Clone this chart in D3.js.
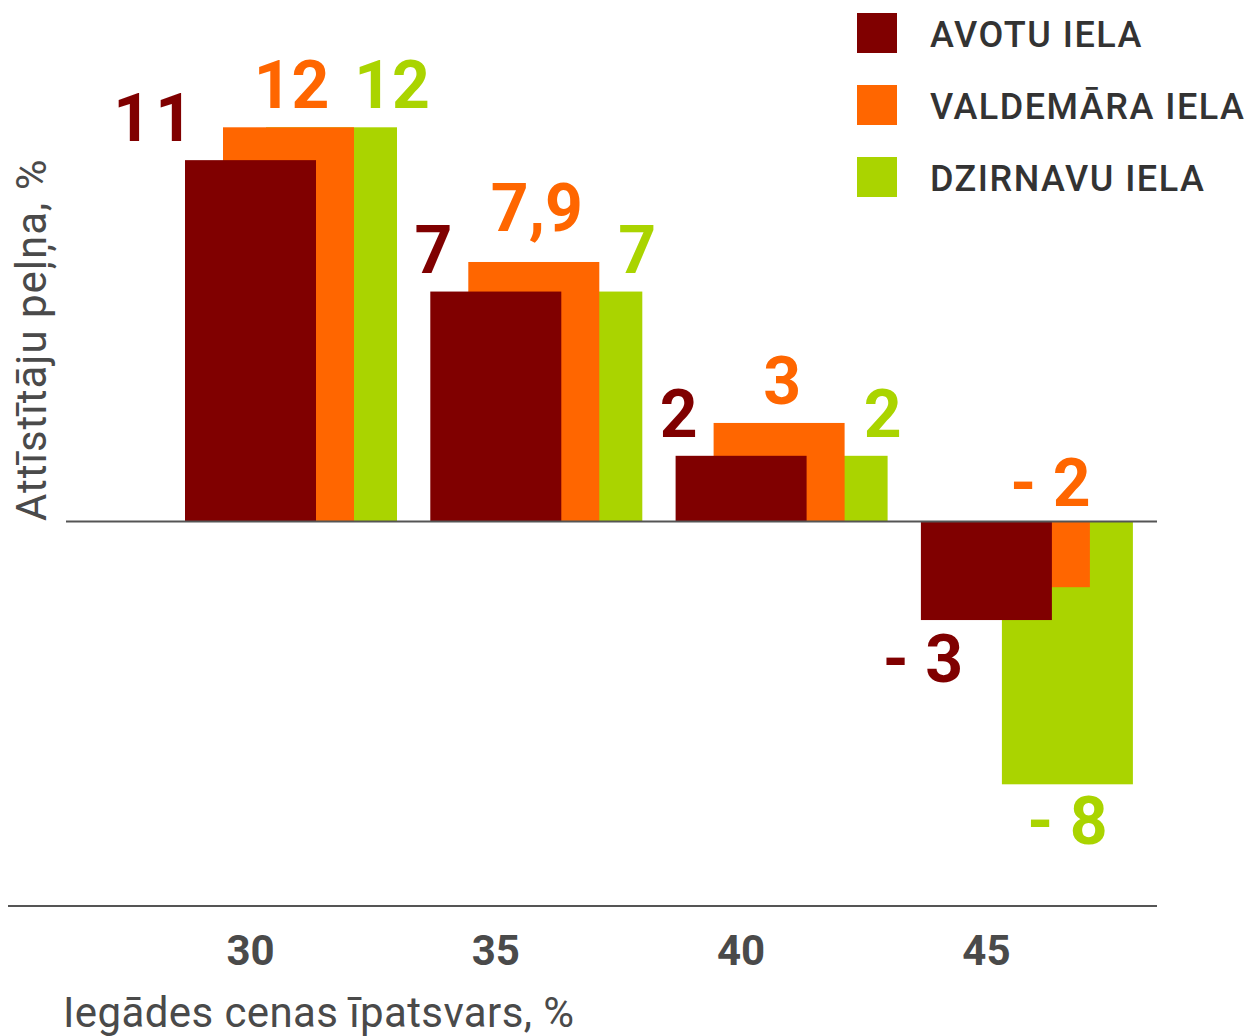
<!DOCTYPE html>
<html><head><meta charset="utf-8">
<script src="https://cdn.jsdelivr.net/npm/d3@7"></script>
<style>body{margin:0;background:#fff}svg{display:block}text{font-family:Roboto,"Liberation Sans",sans-serif}</style>
</head><body><div id="chart"></div>
<script>
const categories = ["30", "35", "40", "45"];
const seriesNames = ["AVOTU IELA", "VALDEMĀRA IELA", "DZIRNAVU IELA"];
const avotu = [11, 7, 2, -3];
const valdemara = [12, 7.9, 3, -2];
const dzirnavu = [12, 7, 2, -8];
const colors = ["#800000", "#ff6600", "#aad400"];
const xTitle = "Iegādes cenas īpatsvars, %";
const yTitle = "Attīstītāju peļņa, %";

const W = 1248, H = 1036;
const svg = d3.select("#chart").append("svg").attr("width", W).attr("height", H);

const x = d3.scaleBand().domain(categories).range([185, 185 + 4 * 245.3]).paddingInner(0);
const y = d3.scaleLinear().domain([-8, 12]).range([784.3, 127.3]);
const barW = 131;
const offs = [0, 38, 81];
const fmt = v => v < 0 ? "- " + String(Math.abs(v)).replace(".", ",") : String(v).replace(".", ",");

const series = [avotu, valdemara, dzirnavu].map((vals, i) => ({
  name: seriesNames[i], color: colors[i], idx: i,
  values: vals.map((v, j) => ({cat: categories[j], v}))
}));

// bars: draw green, then orange, then dark red on top
const gBars = svg.append("g");
[2, 1, 0].forEach(i => {
  const s = series[i];
  gBars.selectAll(null).data(s.values).join("rect")
    .attr("x", d => x(d.cat) + offs[i])
    .attr("width", barW)
    .attr("y", d => y(Math.max(0, d.v)))
    .attr("height", d => Math.abs(y(d.v) - y(0)))
    .attr("fill", s.color);
});

// zero line
svg.append("line").attr("x1", 66).attr("x2", 1157).attr("y1", y(0)).attr("y2", y(0))
  .attr("stroke", "#555").attr("stroke-width", 2);
// bottom axis line
const xAxisY = 906;
svg.append("line").attr("x1", 8).attr("x2", 1157).attr("y1", xAxisY).attr("y2", xAxisY)
  .attr("stroke", "#555").attr("stroke-width", 2);

// value labels
function labelPos(i, d) {
  const left = x(d.cat) + offs[i], right = left + barW, center = left + barW / 2;
  const lift = Number.isInteger(d.v) ? 0 : 12; // labels with a comma sit higher
  if (i === 0) {
    if (d.v >= 0) return {x: left + 12, y: y(d.v) - 19, a: "end"};
    return {x: left + 2, y: y(d.v) + 62, a: "middle"};
  }
  if (i === 1) {
    if (d.v >= 0) return {x: center + 3, y: y(d.v) - 19 - lift, a: "middle"};
    return {x: center + 26, y: y(0) - 16, a: "middle"};
  }
  if (d.v >= 0) return {x: right - 5, y: y(d.v) - 19, a: "middle"};
  return {x: center, y: y(d.v) + 60, a: "middle"};
}
series.forEach(s => {
  svg.append("g").selectAll("text").data(s.values).join("text")
    .each(function(d) {
      const p = labelPos(s.idx, d);
      d3.select(this).attr("x", p.idx === undefined && s.idx === 0 && d.v >= 0 && String(d.v).length === 1 ? p.x + 10 : p.x)
        .attr("y", p.y).attr("text-anchor", p.a);
    })
    .attr("fill", s.color).attr("font-size", 66).attr("font-weight", 700)
    .attr("letter-spacing", d => (s.idx === 0 && d.v === 11) ? 4 : 0)
    .text(d => fmt(d.v));
});

// category tick labels
svg.append("g").selectAll("text").data(categories).join("text")
  .attr("x", d => x(d) + barW / 2).attr("y", 965)
  .attr("text-anchor", "middle").attr("font-size", 42).attr("font-weight", 700)
  .attr("fill", "#4a4a4a").text(d => d);

// axis titles
svg.append("text").attr("x", 63).attr("y", 1027).attr("font-size", 42)
  .attr("letter-spacing", 0.4).attr("fill", "#4a4a4a").text(xTitle);
svg.append("text").attr("transform", "translate(46,521) rotate(-90)")
  .attr("font-size", 42).attr("letter-spacing", 1).attr("fill", "#4a4a4a").text(yTitle);

// legend
const lg = svg.append("g").selectAll("g").data(series).join("g")
  .attr("transform", (d, i) => `translate(857,${13 + i * 72})`);
lg.append("rect").attr("width", 40).attr("height", 40).attr("fill", d => d.color);
lg.append("text").attr("x", 73).attr("y", 34).attr("font-size", 36).attr("font-weight", 500)
  .attr("letter-spacing", 1.5).attr("fill", "#333").text(d => d.name);
</script></body></html>
